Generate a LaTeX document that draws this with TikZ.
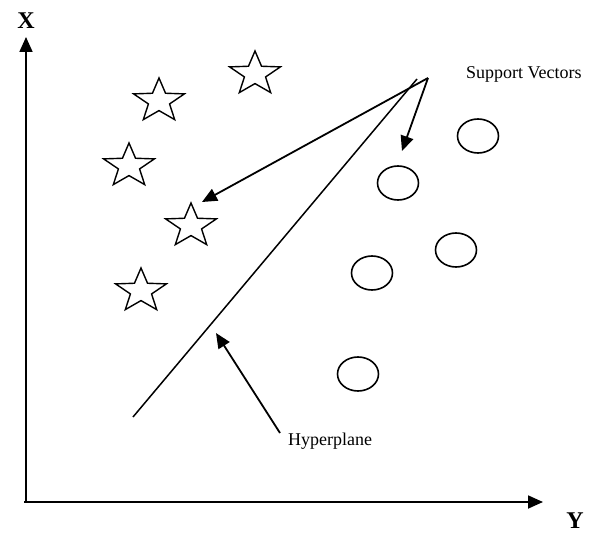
\documentclass[tikz,border=0pt]{standalone}
\usepackage{fontspec}
\setmainfont{Liberation Serif}
\usetikzlibrary{shapes.geometric,arrows.meta}
\tikzset{
  axisline/.style={line width=1.8pt,-{Triangle[length=15pt,width=13pt]}},
  arr/.style={line width=1.8pt,-{Triangle[length=15pt,width=13pt]}},
  plane/.style={line width=1.5pt},
  svstar/.style={star, star points=5, star point ratio=2.4, draw, line width=1.4pt,
    minimum size=46pt, inner sep=0pt, xscale=1.16, transform shape},
  svell/.style={ellipse, draw, line width=1.6pt, minimum width=41pt, minimum height=34pt, inner sep=0pt},
  axlabel/.style={font=\fontsize{24}{26}\selectfont\bfseries, inner sep=0pt, anchor=base},
  lab/.style={font=\fontsize{18}{20}\selectfont, inner sep=0pt, anchor=base west}
}
\begin{document}
\begin{tikzpicture}[x=1pt,y=-1pt]
\useasboundingbox (0,0) rectangle (595,535);
% axes
\coordinate (O) at (26,502);
\coordinate (Ostart) at (24,502);
\coordinate (xtip) at (26,37);
\coordinate (ytip) at (543,502);
\draw[axisline] (O) -- (xtip);
\draw[axisline] (Ostart) -- (ytip);
\node[axlabel] (xl) at (26,29) {X};
\node[axlabel] (yl) at (575,528) {Y};
% stars
\node[svstar] (s1) at (255,74) {};
\node[svstar] (s2) at (159,101) {};
\node[svstar] (s3) at (129,166) {};
\node[svstar] (s4) at (191,226) {};
\node[svstar] (s5) at (141,291) {};
% circles
\node[svell] (c1) at (478,136) {};
\node[svell] (c2) at (398,183) {};
\node[svell] (c3) at (456,250) {};
\node[svell] (c4) at (372,273) {};
\node[svell] (c5) at (358,374) {};
% hyperplane
\coordinate (h1) at (133,417);
\coordinate (h2) at (417,79);
\draw[plane] (h1) -- (h2);
% support vectors arrows
\coordinate (sv) at (428,78);
\coordinate (sva) at (202,202);
\coordinate (svb) at (402,151);
\draw[arr] (sv) -- (sva);
\draw[arr] (sv) -- (svb);
\node[lab] (svl) at (466,78) {Support Vectors};
% hyperplane label
\coordinate (ha) at (280,433);
\coordinate (hb) at (216,333);
\draw[arr] (ha) -- (hb);
\node[lab] (hpl) at (288,445) {Hyperplane};
\end{tikzpicture}
\end{document}
